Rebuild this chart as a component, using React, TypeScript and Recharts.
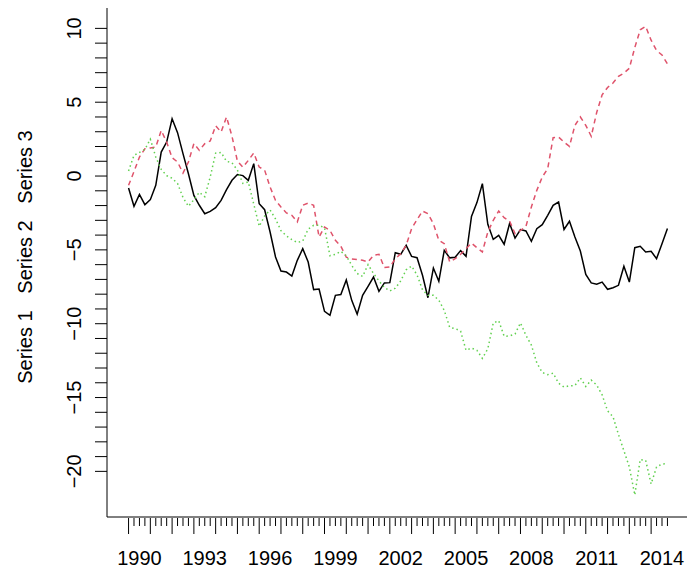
import React from 'react';
import { LineChart, Line, XAxis, YAxis } from 'recharts';

// quarterly series, 1990 Q1 .. 2014 Q4
const START_YEAR = 1990;

const series1 = [
  -0.81, -2.05, -1.24, -1.94, -1.6, -0.63, 1.62, 2.3, 3.88, 2.94,
  1.52, 0.16, -1.31, -1.98, -2.55, -2.39, -2.14, -1.65, -0.92, -0.29,
  0.1, 0.03, -0.29, 0.84, -1.87, -2.28, -3.79, -5.48, -6.43, -6.5,
  -6.77, -5.71, -4.92, -5.82, -7.69, -7.65, -9.16, -9.43, -8.08, -8.03,
  -7.04, -8.42, -9.36, -8.08, -7.47, -6.84, -7.81, -7.24, -7.22, -5.19,
  -5.3, -4.69, -5.44, -5.53, -6.72, -8.24, -6.23, -7.13, -5.03, -5.54,
  -5.5, -5.05, -5.44, -2.73, -1.8, -0.52, -3.27, -4.29, -4.02, -4.62,
  -3.22, -4.2, -3.63, -3.72, -4.42, -3.56, -3.29, -2.66, -1.98, -1.76,
  -3.62, -3.06, -4.13, -5.08, -6.66, -7.24, -7.33, -7.18, -7.67, -7.56,
  -7.4, -6.11, -7.18, -4.85, -4.76, -5.14, -5.1, -5.59, -4.58, -3.56,
];

const series2 = [
  -0.63, 0.3, 1.29, 1.85, 1.9, 1.96, 3.09, 2.3, 1.24, 0.95,
  0.2, 0.95, 2.2, 1.74, 2.19, 2.37, 3.4, 2.98, 4.0, 2.7,
  1.0, 0.6, 1.06, 1.56, 0.61, 0.4, -0.74, -1.65, -2.1, -2.5,
  -2.66, -3.11, -1.98, -1.83, -1.98, -4.13, -3.45, -3.68, -4.35, -4.75,
  -5.5, -5.62, -5.66, -5.71, -5.82, -5.37, -5.3, -6.2, -6.16, -5.6,
  -5.26, -4.69, -3.56, -2.95, -2.37, -2.55, -3.22, -4.35, -4.58, -5.82,
  -5.6, -5.3, -4.92, -4.54, -4.85, -5.14, -3.79, -3.0, -2.37, -2.82,
  -3.05, -3.9, -3.68, -3.41, -2.1, -0.97, -0.07, 0.5, 2.6, 2.64,
  2.3, 2.01, 3.43, 4.0, 3.43, 2.69, 4.3, 5.5, 6.0, 6.3,
  6.75, 6.97, 7.3, 8.7, 9.9, 10.13, 9.2, 8.5, 8.2, 7.6,
];

const series3 = [
  0.34, 1.4, 1.6, 1.8, 2.5, 1.29, 0.45, 0.03, -0.15, -0.5,
  -1.45, -2.05, -1.6, -1.1, -1.4, -0.07, 1.55, 1.6, 1.0, 0.9,
  0.4, -0.5, -0.4, -1.9, -3.4, -2.7, -2.3, -2.9, -3.7, -4.05,
  -4.3, -4.5, -4.4, -3.6, -3.34, -3.34, -3.5, -5.4, -5.3, -5.1,
  -5.4, -6.05, -6.6, -6.8, -6.0, -6.6, -7.1, -7.55, -7.78, -7.6,
  -7.1, -6.35, -6.1, -6.7, -7.7, -8.08, -8.08, -8.4, -9.1, -10.25,
  -10.33, -10.5, -11.8, -11.65, -11.8, -12.35, -11.7, -9.95, -9.8, -10.85,
  -10.83, -10.7, -9.95, -10.78, -11.45, -12.65, -13.3, -13.45, -13.35, -14.03,
  -14.29, -14.2, -14.19, -13.67, -14.25, -13.82, -14.15, -14.82, -15.9, -16.3,
  -17.5, -18.6, -19.7, -21.6, -19.2, -19.25, -20.85, -19.7, -19.5, -19.47,
];

const labelYears = [1990, 1993, 1996, 1999, 2002, 2005, 2008, 2011, 2014];
const yTicks = [
  -20, -19, -18, -17, -16, -15, -14, -13, -12, -11, -10, -9, -8, -7, -6, -5,
  -4, -3, -2, -1, 0, 1, 2, 3, 4, 5, 6, 7, 8, 9, 10,
];

const quarters = series1.map((_, i) => START_YEAR + i / 4);
const data = quarters.map((t, i) => ({
  t,
  s1: series1[i],
  s2: series2[i],
  s3: series3[i],
}));

const X_DOMAIN: [number, number] = [1989.01, 2015.74];
const Y_DOMAIN: [number, number] = [-23.09, 11.38];
const FONT = '"Liberation Sans", Arial, Helvetica, sans-serif';
const FONT_SIZE = 20;

const XTick = (props: any) => {
  const { x, y, payload } = props;
  const v = payload.value;
  const year = Math.floor(v + 1e-6);
  const frac = v - year;
  const isYear = Math.abs(frac) < 1e-6;
  const showLabel = Math.abs(frac - 0.5) < 1e-6 && labelYears.includes(year);
  return (
    <g>
      <line x1={x} x2={x} y1={y + 1} y2={y + (isYear ? 17 : 9)} stroke="#000" strokeWidth={1} />
      {showLabel && (
        <text x={x} y={y + 48} textAnchor="middle" fontFamily={FONT} fontSize={FONT_SIZE} fill="#000">
          {year}
        </text>
      )}
    </g>
  );
};

const YTick = (props: any) => {
  const { x, y, payload } = props;
  const v = payload.value;
  const label = v < 0 ? '\u2212' + Math.abs(v) : String(v);
  const tx = x - 26;
  return (
    <g>
      <line x1={x - 12} x2={x} y1={y} y2={y} stroke="#000" strokeWidth={1} />
      {v % 5 === 0 && (
        <text
          x={tx}
          y={y}
          transform={`rotate(-90 ${tx} ${y})`}
          textAnchor="middle"
          fontFamily={FONT}
          fontSize={FONT_SIZE}
          fill="#000"
        >
          {label}
        </text>
      )}
    </g>
  );
};

const YTitle = () => (
  <text
    x={32}
    y={257}
    transform="rotate(-90 32 257)"
    textAnchor="middle"
    fontFamily={FONT}
    fontSize={FONT_SIZE}
    fill="#000"
    style={{ whiteSpace: 'pre' }}
  >
    {'Series 1   Series 2   Series 3'}
  </text>
);

export default function App() {
  return (
    <div style={{ position: 'absolute', left: 0, top: 0, background: '#fff' }}>
      <LineChart
        width={700}
        height={573}
        data={data}
        margin={{ top: 8, right: 11, bottom: 0, left: 0 }}
      >
        <XAxis
          dataKey="t"
          type="number"
          domain={X_DOMAIN}
          allowDataOverflow
          ticks={quarters}
          interval={0}
          tick={<XTick />}
          tickLine={false}
          tickSize={0}
          tickMargin={0}
          height={56}
          axisLine={{ stroke: '#000' }}
        />
        <XAxis
          xAxisId="top"
          orientation="top"
          dataKey="t"
          type="number"
          domain={X_DOMAIN}
          allowDataOverflow
          tick={false}
          tickLine={false}
          height={0}
          axisLine={{ stroke: '#000' }}
        />
        <YAxis
          type="number"
          domain={Y_DOMAIN}
          allowDataOverflow
          ticks={yTicks}
          interval={0}
          tick={<YTick />}
          tickLine={false}
          tickSize={0}
          tickMargin={0}
          width={107}
          axisLine={{ stroke: '#000' }}
          label={{ content: () => <YTitle /> }}
        />
        <Line
          type="linear"
          dataKey="s1"
          stroke="#000000"
          strokeWidth={1.5}
          dot={false}
          isAnimationActive={false}
        />
        <Line
          type="linear"
          dataKey="s2"
          stroke="#DF536B"
          strokeWidth={1.5}
          strokeDasharray="5 4"
          dot={false}
          isAnimationActive={false}
        />
        <Line
          type="linear"
          dataKey="s3"
          stroke="#61D04F"
          strokeWidth={1.5}
          strokeDasharray="1.5 3"
          dot={false}
          isAnimationActive={false}
        />
      </LineChart>
    </div>
  );
}
